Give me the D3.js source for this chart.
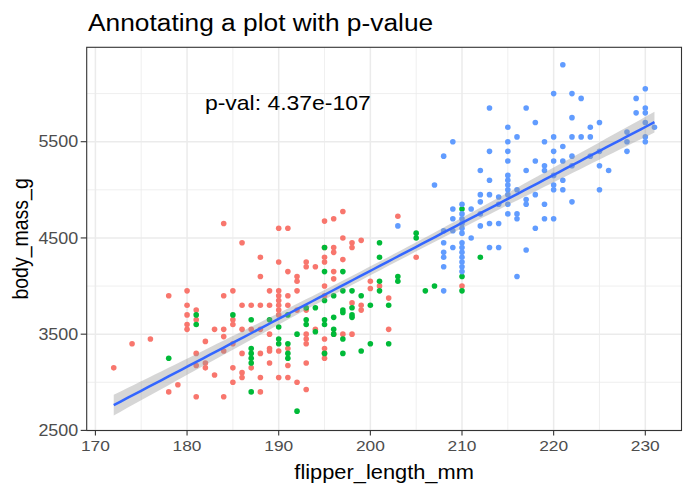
<!DOCTYPE html>
<html><head><meta charset="utf-8">
<script src="https://cdn.jsdelivr.net/npm/d3@7"></script>
<style>body{margin:0;background:#fff}</style>
</head><body>
<svg id="chart" width="693" height="495"></svg>
<script>
// ---- data (flipper_length_mm, body_mass_g) ----
const adelie = [
[172,3150],[174,3400],[176,3450],[178,3900],[178,2900],[179,2975],
[180,3950],[180,3800],[180,3700],[180,3600],[180,3550],
[181,3750],[181,3650],[181,3300],[181,3175],[181,2850],
[182,3425],[182,3200],[182,3150],[183,3550],[183,3075],
[184,4650],[184,3900],[184,3550],[184,3475],[184,3325],[184,2850],
[185,3950],[185,3650],[185,3600],[185,3400],[185,3150],[185,3000],
[186,4450],[186,3800],[186,3550],[186,3300],[186,3100],[186,3050],
[187,3800],[187,3550],[187,3150],
[188,4300],[188,4100],[188,3800],[188,3550],[188,3300],[188,3050],[188,2900],
[189,3950],[189,3800],[189,3500],[189,3350],[189,3325],[189,3200],
[190,4600],[190,4250],[190,3950],[190,3900],[190,3850],[190,3800],[190,3750],[190,3700],[190,3325],[190,3050],
[191,4600],[191,4150],[191,3900],[191,3800],[191,3350],[191,3175],[191,3050],
[192,4100],[192,4050],[192,3950],[192,3750],[192,3000],
[193,4250],[193,4200],[193,3750],[193,3500],[193,3450],[193,3400],[193,3200],[193,2925],
[194,4200],[194,3550],
[195,4675],[195,4400],[195,4300],[195,4250],[195,4000],[195,3900],[195,3450],[195,3350],[195,3300],[195,3250],
[196,4700],[196,4400],[196,4350],[196,4150],[196,4075],[196,3500],
[197,4775],[197,4500],[197,4275],[197,3500],
[198,4450],[198,4400],[198,3825],[198,3500],
[199,4475],[199,3800],[199,3750],
[200,4050],[200,3975],[201,4000],[202,3875],[202,3550],[203,4725],[205,4300],[210,4000]
];
const chinstrap = [
[178,3250],[181,3700],[181,3600],[185,3700],
[187,3650],[187,3350],[187,3300],[187,3250],[187,3200],[187,2900],
[189,3650],[190,3575],[190,3450],[190,3400],
[191,3700],[191,3400],[191,3300],[191,3250],[192,3500],[192,2700],
[193,3775],[193,3650],[193,3600],[194,3775],[194,3525],
[195,4400],[195,4150],[195,3850],[195,3650],[195,3600],[195,3300],
[196,3900],[196,3675],[196,3550],[196,3500],
[197,4150],[197,3950],[197,3750],[197,3725],[197,3450],[197,3300],
[198,3950],[198,3775],[198,3700],[198,3675],
[199,3900],[199,3325],[200,3800],[200,3400],
[201,4450],[201,4300],[201,4050],[201,3950],[202,3800],[202,3400],
[203,4100],[203,4050],[205,4550],[205,4500],[206,3950],[207,4000],
[210,4800],[210,4100],[210,3950],[212,4300]
];
const gentoo = [
[203,4625],[207,5050],
[208,5350],[208,4575],[208,4450],[208,4350],[208,4300],[208,4200],[208,3950],
[209,5500],[209,4800],[209,4700],[209,4575],[209,4400],
[210,4850],[210,4750],[210,4700],[210,4650],[210,4600],[210,4550],[210,4450],[210,4400],[210,4350],[210,4300],[210,4250],[210,4200],[210,4150],
[211,4800],[211,4500],
[212,5200],[212,4950],[212,4875],[212,4750],[212,4625],
[213,5850],[213,5400],[213,5100],[213,4950],[213,4650],[213,4400],
[214,4925],[214,4850],[214,4650],[214,4400],
[215,5650],[215,5500],[215,5400],[215,5300],[215,5150],[215,5100],[215,5050],[215,5000],[215,4950],[215,4850],[215,4750],
[216,5550],[216,5000],[216,4750],[216,4700],[216,4100],
[217,5850],[217,5200],[217,4900],[217,4850],[217,4375],
[218,5700],[218,5300],[218,4950],[218,4600],
[219,5500],[219,5250],[219,5200],[219,4850],[219,4700],
[220,6000],[220,5550],[220,5400],[220,5300],[220,5150],[220,5050],[220,5000],[220,4700],
[221,6300],[221,5450],[221,5300],[221,5100],[221,5000],
[222,6000],[222,5750],[222,5550],[222,5350],[222,5250],[222,4875],
[223,5950],[223,5550],[224,5650],[224,5550],[224,5350],
[225,5700],[225,5400],[225,5250],[225,5000],[226,5200],
[228,5600],[228,5500],[228,5400],[229,5950],[229,5800],
[230,6050],[230,5850],[230,5800],[230,5700],[230,5550],[230,5500],[231,5650]
];
const speciesNames = ["Adelie","Chinstrap","Gentoo"];
const speciesColors = ["#F8766D","#00BA38","#619CFF"];
const xTicks = [170,180,190,200,210,220,230];
const xMinor = [175,185,195,205,215,225];
const yTicks = [2500,3500,4500,5500];
const yMinor = [3000,4000,5000,6000];
const titleText = "Annotating a plot with p-value";
const annotText = "p-val: 4.37e-107";
const annotPos = [191, 5900];
const xLabel = "flipper_length_mm";
const yLabel = "body_mass_g";

// ---- layout ----
const svg = d3.select("#chart");
const L = 86.7, R = 681.5, T = 47.3, B = 430.5;
const SX = 1.12; // horizontal text stretch seen in the reference
const FONT = "'Liberation Sans', Arial, Helvetica, sans-serif";
const x = d3.scaleLinear().domain([169.05, 233.95]).range([L, R]);
const y = d3.scaleLinear().domain([2499, 6481]).range([B, T]);

svg.append("rect").attr("width",693).attr("height",495).attr("fill","#fff");

// grid
const grid = svg.append("g");
grid.selectAll(".vmin").data(xMinor).join("line")
  .attr("x1",d=>x(d)).attr("x2",d=>x(d)).attr("y1",T).attr("y2",B)
  .attr("stroke","#EBEBEB").attr("stroke-width",0.8);
grid.selectAll(".hmin").data(yMinor).join("line")
  .attr("y1",d=>y(d)).attr("y2",d=>y(d)).attr("x1",L).attr("x2",R)
  .attr("stroke","#EBEBEB").attr("stroke-width",0.8);
grid.selectAll(".vmaj").data(xTicks).join("line")
  .attr("x1",d=>x(d)).attr("x2",d=>x(d)).attr("y1",T).attr("y2",B)
  .attr("stroke","#EBEBEB").attr("stroke-width",1.5);
grid.selectAll(".hmaj").data(yTicks).join("line")
  .attr("y1",d=>y(d)).attr("y2",d=>y(d)).attr("x1",L).attr("x2",R)
  .attr("stroke","#EBEBEB").attr("stroke-width",1.5);

// points
const all = [];
[adelie, chinstrap, gentoo].forEach((arr,i)=>arr.forEach(p=>all.push({x:p[0],y:p[1],s:i})));
svg.append("g").selectAll("circle").data(all).join("circle")
  .attr("cx",d=>x(d.x)).attr("cy",d=>y(d.y)).attr("r",2.8)
  .attr("fill",d=>speciesColors[d.s]);

// linear fit + 95% CI
const n = all.length;
const mx = d3.mean(all,d=>d.x), my = d3.mean(all,d=>d.y);
const sxx = d3.sum(all,d=>(d.x-mx)**2);
const sxy = d3.sum(all,d=>(d.x-mx)*(d.y-my));
const slope = sxy/sxx, icpt = my - slope*mx;
const s = Math.sqrt(d3.sum(all,d=>(d.y-(icpt+slope*d.x))**2)/(n-2));
const tq = 1.968;
const [x0,x1] = d3.extent(all,d=>d.x);
const grid80 = d3.range(80).map(i=>x0+(x1-x0)*i/79).map(v=>{
  const f = icpt+slope*v, se = s*Math.sqrt(1/n+(v-mx)**2/sxx);
  return {x:v,f:f,lo:f-tq*se,hi:f+tq*se};
});
svg.append("path").datum(grid80)
  .attr("d",d3.area().x(d=>x(d.x)).y0(d=>y(d.lo)).y1(d=>y(d.hi)))
  .attr("fill","#999999").attr("fill-opacity",0.4);
svg.append("path").datum(grid80)
  .attr("d",d3.line().x(d=>x(d.x)).y(d=>y(d.f)))
  .attr("fill","none").attr("stroke","#3366FF").attr("stroke-width",2.5);

// panel border
svg.append("rect").attr("x",L).attr("y",T).attr("width",R-L).attr("height",B-T)
  .attr("fill","none").attr("stroke","#333333").attr("stroke-width",1.1);

// ticks
svg.append("g").selectAll("line").data(xTicks).join("line")
  .attr("x1",d=>x(d)).attr("x2",d=>x(d)).attr("y1",B).attr("y2",B+5)
  .attr("stroke","#333333").attr("stroke-width",1.1);
svg.append("g").selectAll("line").data(yTicks).join("line")
  .attr("y1",d=>y(d)).attr("y2",d=>y(d)).attr("x1",L).attr("x2",L-6)
  .attr("stroke","#333333").attr("stroke-width",1.1);

function stext(px,py,str,opt){
  const g = svg.append("g").attr("transform",`translate(${px},${py}) scale(${SX},1)${opt.rot?" rotate(-90)":""}`);
  return g.append("text").text(str).attr("font-family",FONT)
    .attr("font-size",opt.size).attr("fill",opt.fill||"#000")
    .attr("text-anchor",opt.anchor||"middle").attr("dy",opt.dy||0);
}
xTicks.forEach(t=>stext(x(t),451,String(t),{size:15.5,fill:"#4D4D4D"}));
yTicks.forEach(t=>stext(L-8.5,y(t),String(t),{size:16,fill:"#4D4D4D",anchor:"end",dy:"0.35em"}));
stext((L+R)/2,479,xLabel,{size:19.5});
stext(28,(T+B)/2,yLabel,{size:19.5,rot:true});
stext(88,31,titleText,{size:23.5,anchor:"start"});
stext(x(annotPos[0]),y(annotPos[1]),annotText,{size:20.5,dy:"0.35em"});
</script>
</body></html>
